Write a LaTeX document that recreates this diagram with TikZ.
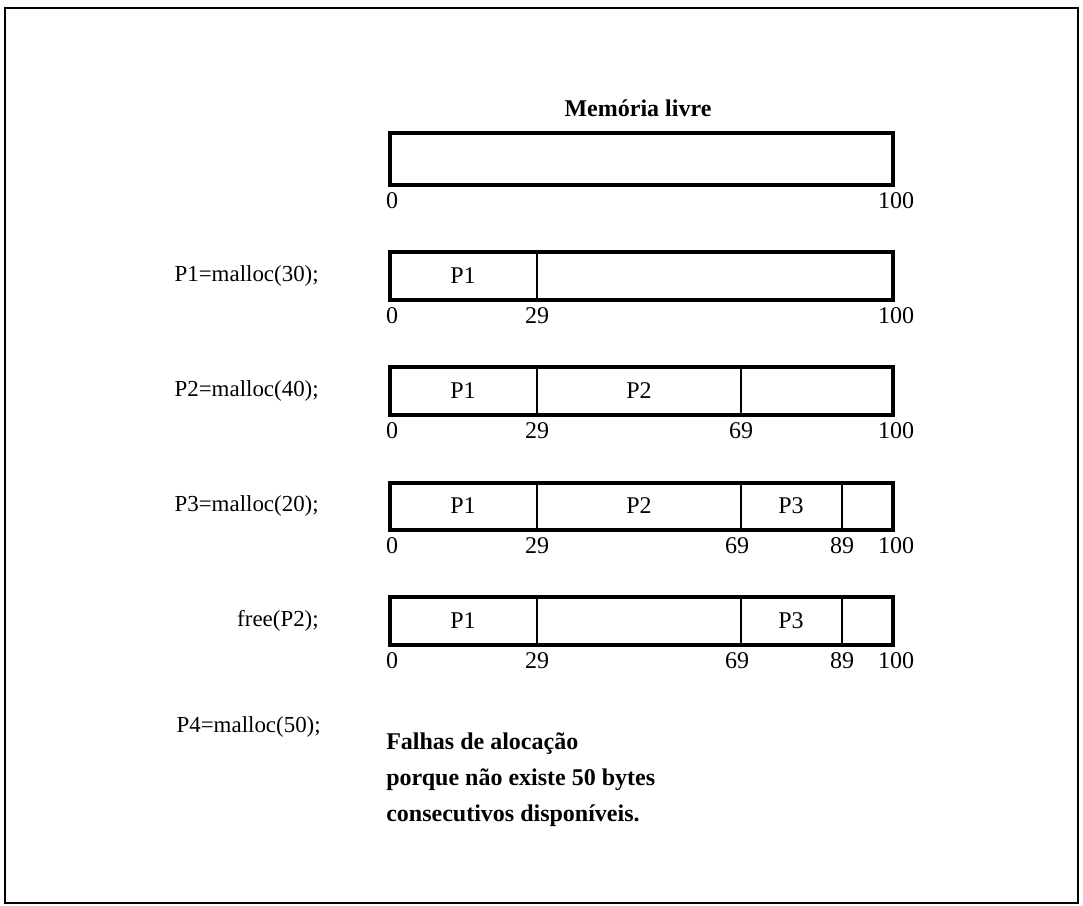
\documentclass[tikz,border=0pt]{standalone}
\usepackage{fontspec}
\setmainfont{Liberation Serif}
\begin{document}
\begin{tikzpicture}[x=0.75pt,y=-0.75pt,
  bar/.style={draw, line width=2.6pt, line join=miter},
  divline/.style={line width=1.5pt},
  txt/.style={font=\fontsize{18}{21}\selectfont, inner sep=0pt},
  tick/.style={font=\fontsize{18}{21}\selectfont, inner sep=0pt, anchor=north},
  cmd/.style={font=\fontsize{17.2}{21}\selectfont, inner sep=0pt, anchor=east},
  bold/.style={font=\fontsize{18}{27}\selectfont\bfseries, inner sep=0pt}]
\useasboundingbox (0,0) rectangle (1083,906);
\draw[line width=1.5pt] (5,8) rectangle (1078,903);

% title
\node[bold] (title) at (638,108) {Memória livre};

% row 1
\draw[bar] (390,133) rectangle (893,185);
\node[tick] (r1a) at (392,192) {0};
\node[tick] (r1b) at (896,192) {100};

% row 2
\node[cmd] (c1) at (319,276) {P1=malloc(30);};
\draw[bar] (390,252) rectangle (893,300);
\draw[divline] (537,252) -- (537,300);
\node[txt] (r2p1) at (463,276) {P1};
\node[tick] (r2a) at (392,307) {0};
\node[tick] (r2b) at (537,307) {29};
\node[tick] (r2c) at (896,307) {100};

% row 3
\node[cmd] (c2) at (319,391) {P2=malloc(40);};
\draw[bar] (390,367) rectangle (893,415);
\draw[divline] (537,367) -- (537,415);
\draw[divline] (741,367) -- (741,415);
\node[txt] (r3p1) at (463,391) {P1};
\node[txt] (r3p2) at (639,391) {P2};
\node[tick] (r3a) at (392,422) {0};
\node[tick] (r3b) at (537,422) {29};
\node[tick] (r3c) at (741,422) {69};
\node[tick] (r3d) at (896,422) {100};

% row 4
\node[cmd] (c3) at (319,506) {P3=malloc(20);};
\draw[bar] (390,483) rectangle (893,530);
\draw[divline] (537,483) -- (537,530);
\draw[divline] (741,483) -- (741,530);
\draw[divline] (842,483) -- (842,530);
\node[txt] (r4p1) at (463,506) {P1};
\node[txt] (r4p2) at (639,506) {P2};
\node[txt] (r4p3) at (791,506) {P3};
\node[tick] (r4a) at (392,537) {0};
\node[tick] (r4b) at (537,537) {29};
\node[tick] (r4c) at (737,537) {69};
\node[tick] (r4d) at (842,537) {89};
\node[tick] (r4e) at (896,537) {100};

% row 5
\node[cmd] (c4) at (319,621) {free(P2);};
\draw[bar] (390,597) rectangle (893,645);
\draw[divline] (537,597) -- (537,645);
\draw[divline] (741,597) -- (741,645);
\draw[divline] (842,597) -- (842,645);
\node[txt] (r5p1) at (463,621) {P1};
\node[txt] (r5p3) at (791,621) {P3};
\node[tick] (r5a) at (392,652) {0};
\node[tick] (r5b) at (537,652) {29};
\node[tick] (r5c) at (737,652) {69};
\node[tick] (r5d) at (842,652) {89};
\node[tick] (r5e) at (896,652) {100};

% row 6
\node[cmd] (c5) at (321,727) {P4=malloc(50);};
\node[bold, anchor=west, align=left] (msg) at (386,780)
  {Falhas de alocação\\porque não existe 50 bytes\\consecutivos disponíveis.};
\end{tikzpicture}
\end{document}
